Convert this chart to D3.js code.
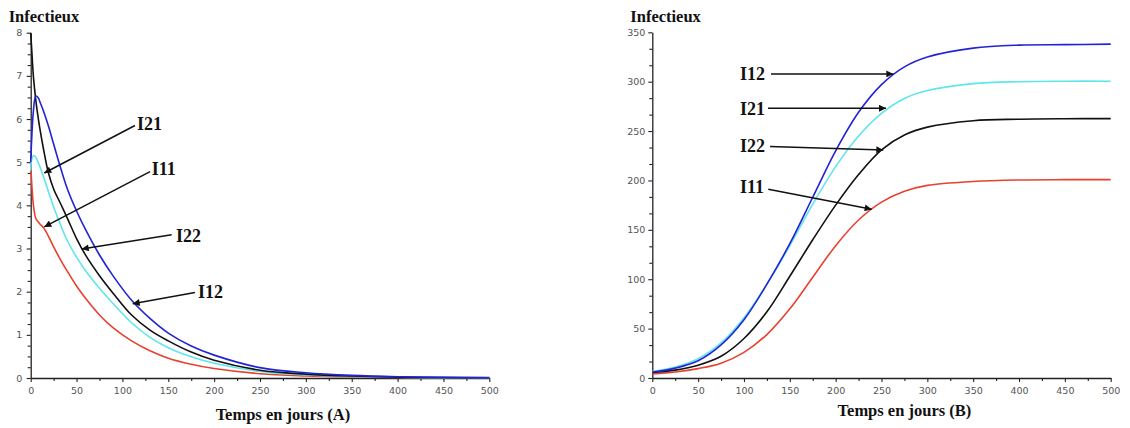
<!DOCTYPE html>
<html>
<head>
<meta charset="utf-8">
<script src="https://cdn.jsdelivr.net/npm/d3@7/dist/d3.min.js"></script>
<style>
  html, body { margin: 0; padding: 0; background: #fff; }
  svg { display: block; }
</style>
</head>
<body>
<svg id="chart" width="1130" height="428"></svg>
<script>
// ---------- DATA ----------
// Panel A : time (days) and infected values
const timeA = [0, 1, 3, 5.5, 8, 10, 14, 19, 25, 33, 40, 50, 60, 75, 90, 110, 130, 150, 175, 200, 250, 300, 350, 400, 450, 500];
const I11_A = [5.0, 4.55, 4.0, 3.7, 3.62, 3.57, 3.48, 3.3, 3.04, 2.72, 2.47, 2.13, 1.84, 1.46, 1.16, 0.86, 0.63, 0.46, 0.32, 0.22, 0.1, 0.05, 0.025, 0.012, 0.006, 0.003];
const I12_A = [5.0, 5.5, 6.2, 6.53, 6.5, 6.4, 6.18, 5.86, 5.42, 4.84, 4.38, 3.87, 3.43, 2.85, 2.36, 1.8, 1.38, 1.04, 0.74, 0.53, 0.24, 0.12, 0.06, 0.03, 0.015, 0.008];
const I21_A = [4.8, 5.05, 5.15, 5.12, 5.0, 4.9, 4.66, 4.34, 3.96, 3.52, 3.18, 2.8, 2.48, 2.08, 1.72, 1.28, 0.94, 0.7, 0.49, 0.34, 0.15, 0.07, 0.035, 0.017, 0.008, 0.004];
const I22_A = [8.0, 7.65, 6.97, 6.45, 6.05, 5.78, 5.3, 4.78, 4.38, 4.02, 3.7, 3.23, 2.84, 2.37, 1.96, 1.46, 1.11, 0.86, 0.6, 0.41, 0.18, 0.09, 0.045, 0.02, 0.01, 0.005];

// Panel B
const timeB = [0, 25, 50, 75, 100, 125, 150, 175, 200, 225, 250, 275, 300, 350, 400, 450, 500];
const I11_B = [4, 6, 9.5, 15, 26, 44, 70, 102, 134, 160, 178, 189, 195, 199, 200.5, 200.8, 200.8];
const I12_B = [6, 10, 17.5, 33.5, 59, 95, 136, 183, 230, 269, 297, 315, 325, 334, 337, 337.5, 338];
const I21_B = [6.5, 11, 19.5, 35.5, 61, 95, 134, 176, 214, 245, 268, 283, 291, 298, 300, 300.5, 300.5];
const I22_B = [5.5, 8, 13, 22, 40, 67, 103, 140, 175, 206, 231, 246, 254, 260.5, 262, 262.5, 262.6];

// Tick values
const xMajorTicks = [0, 50, 100, 150, 200, 250, 300, 350, 400, 450, 500];
const xMinorTicks = [25, 75, 125, 175, 225, 275, 325, 375, 425, 475];
const yMajorTicksA = [0, 1, 2, 3, 4, 5, 6, 7, 8];
const yMajorTicksB = [0, 50, 100, 150, 200, 250, 300, 350];

// Annotations: label, arrow start (t, v), arrow tip (t, v)
const notesA = [
  { label: "I21", tx: 115.9, ty: 5.75, fx: 113.7, fy: 5.85, px: 14.8, py: 4.75 },
  { label: "I11", tx: 131.9, ty: 4.71, fx: 130.1, fy: 4.78, px: 14.8, py: 3.5 },
  { label: "I22", tx: 158.4, ty: 3.16, fx: 153.7, fy: 3.32, px: 55.6, py: 2.99 },
  { label: "I12", tx: 182.4, ty: 1.86, fx: 179.1, fy: 1.98, px: 111.2, py: 1.72 }
];
const notesB = [
  { label: "I12", tx: 95.7, ty: 301.8, fx: 129.5, fy: 307.9, px: 262.9, py: 307.9 },
  { label: "I21", tx: 95.7, ty: 266.4, fx: 126.2, fy: 273.1, px: 254.9, py: 273.1 },
  { label: "I22", tx: 95.7, ty: 229.2, fx: 128.4, fy: 234.3, px: 252.0, py: 230.9 },
  { label: "I11", tx: 95.7, ty: 187.0, fx: 126.5, fy: 191.1, px: 239.3, py: 170.9 }
];

const colors = { I11: "#e8412f", I12: "#2323d6", I21: "#5fe6ec", I22: "#111111" };

// ---------- DRAW ----------
const svg = d3.select("#chart");
svg.append("rect").attr("width", 1130).attr("height", 428).attr("fill", "#fff");

svg.append("defs").append("marker")
  .attr("id", "ah")
  .attr("viewBox", "0 0 10 10")
  .attr("refX", 10).attr("refY", 5)
  .attr("markerWidth", 9).attr("markerHeight", 7)
  .attr("markerUnits", "userSpaceOnUse")
  .attr("orient", "auto")
  .append("path").attr("d", "M0,0 L10,5 L0,10 z").attr("fill", "#111");

function panel(opts) {
  const x = d3.scaleLinear().domain([0, 500]).range(opts.xr);
  const y = d3.scaleLinear().domain(opts.yd).range(opts.yr);
  const g = svg.append("g");

  const minorYTicks = [];
  for (let i = 0; i < opts.yMajor.length - 1; i++) {
    const a = opts.yMajor[i], b = opts.yMajor[i + 1];
    for (let k = 1; k < opts.yMinorDiv; k++) minorYTicks.push(a + (b - a) * k / opts.yMinorDiv);
  }

  g.append("g").attr("transform", `translate(0,${opts.yr[0]})`)
    .call(d3.axisBottom(x).tickValues(xMajorTicks).tickSize(4).tickSizeOuter(0).tickPadding(5));
  g.append("g").attr("transform", `translate(0,${opts.yr[0]})`)
    .call(d3.axisBottom(x).tickValues(xMinorTicks).tickSize(3).tickSizeOuter(0).tickFormat(""))
    .select(".domain").remove();
  g.append("g").attr("transform", `translate(${opts.xr[0]},0)`)
    .call(d3.axisLeft(y).tickValues(opts.yMajor).tickSize(4).tickSizeOuter(0).tickPadding(opts.yPad));
  g.append("g").attr("transform", `translate(${opts.xr[0]},0)`)
    .call(d3.axisLeft(y).tickValues(minorYTicks).tickSize(3).tickSizeOuter(0).tickFormat(""))
    .select(".domain").remove();

  g.selectAll(".domain").attr("stroke", "#222").attr("stroke-width", 1.3);
  g.selectAll(".tick line").attr("stroke", "#222").attr("stroke-width", 1.1);
  g.selectAll(".tick text")
    .attr("font-family", "'DejaVu Sans', sans-serif")
    .attr("font-size", 9.5)
    .attr("fill", "#555");

  const line = d3.line().x(d => x(d[0])).y(d => y(d[1])).curve(d3.curveCatmullRom.alpha(0.5));
  opts.series.forEach(s => {
    g.append("path")
      .datum(opts.t.map((t, i) => [t, s.values[i]]))
      .attr("d", line)
      .attr("fill", "none")
      .attr("stroke", colors[s.name])
      .attr("stroke-width", 1.6)
      .attr("stroke-linejoin", "round");
  });

  opts.notes.forEach(n => {
    g.append("line")
      .attr("x1", x(n.fx)).attr("y1", y(n.fy))
      .attr("x2", x(n.px)).attr("y2", y(n.py))
      .attr("stroke", "#111").attr("stroke-width", 1.5)
      .attr("marker-end", "url(#ah)");
    g.append("text")
      .attr("x", x(n.tx)).attr("y", y(n.ty))
      .attr("font-family", "'Liberation Serif', 'Times New Roman', serif")
      .attr("font-weight", "bold")
      .attr("font-size", 18)
      .attr("fill", "#111")
      .text(n.label);
  });

  g.append("text")
    .attr("x", opts.xr[0] - 22).attr("y", 21.5)
    .attr("font-family", "'Liberation Serif', 'Times New Roman', serif")
    .attr("font-weight", "bold").attr("font-size", 16.5).attr("fill", "#111")
    .text("Infectieux");
  g.append("text")
    .attr("x", x(275)).attr("y", opts.xlabY)
    .attr("text-anchor", "middle")
    .attr("font-family", "'Liberation Serif', 'Times New Roman', serif")
    .attr("font-weight", "bold").attr("font-size", 16.5).attr("fill", "#111")
    .text(opts.xlabel);
}

panel({
  xr: [30.7, 489.3], yd: [0, 8], yr: [378, 32.7],
  yMajor: yMajorTicksA, yMinorDiv: 4, yPad: 4.5,
  t: timeA,
  series: [
    { name: "I11", values: I11_A },
    { name: "I21", values: I21_A },
    { name: "I22", values: I22_A },
    { name: "I12", values: I12_A }
  ],
  notes: notesA,
  xlabel: "Temps en jours (A)", xlabY: 420
});

panel({
  xr: [652.3, 1110.7], yd: [0, 350], yr: [378, 32.3],
  yMajor: yMajorTicksB, yMinorDiv: 3, yPad: 3,
  t: timeB,
  series: [
    { name: "I11", values: I11_B },
    { name: "I22", values: I22_B },
    { name: "I21", values: I21_B },
    { name: "I12", values: I12_B }
  ],
  notes: notesB,
  xlabel: "Temps en jours (B)", xlabY: 416
});
</script>
</body>
</html>
